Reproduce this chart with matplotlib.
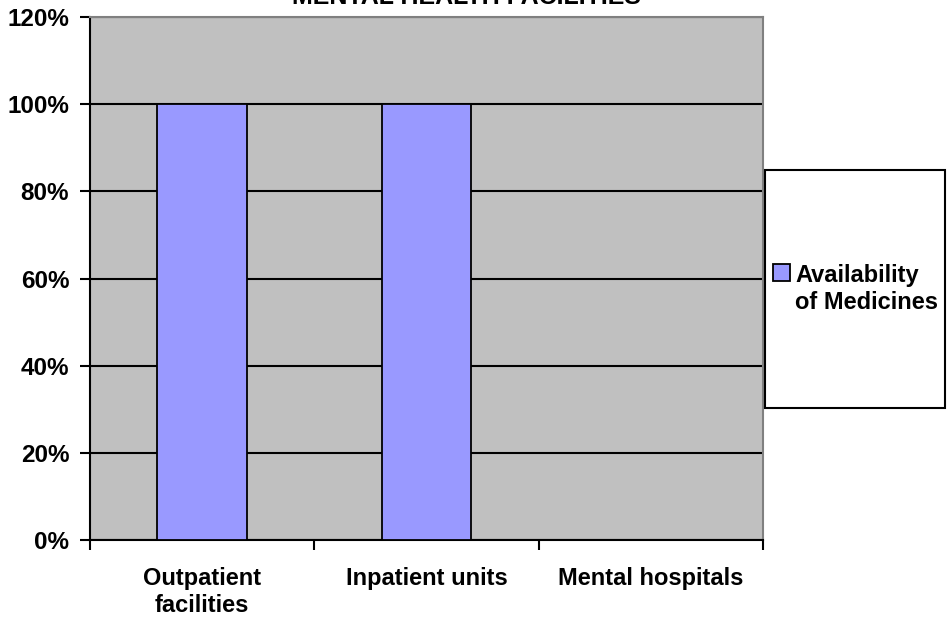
import numpy as np
import matplotlib.pyplot as plt
from matplotlib.patches import Rectangle
from matplotlib.ticker import FuncFormatter

plt.rcParams['font.family'] = ['Liberation Sans', 'DejaVu Sans']
plt.rcParams['font.weight'] = 'bold'

# data
categories = ["Outpatient\nfacilities", "Inpatient units", "Mental hospitals"]
availability = [1.0, 1.0, 0.0]
series_name = "Availability\nof Medicines"
title = "MENTAL HEALTH FACILITIES"

fig = plt.figure(figsize=(9.47, 6.2), dpi=100)
ax = fig.add_axes([90 / 947, 1 - 540 / 620, 673 / 947, 523 / 620])
ax.set_facecolor("#C0C0C0")

x = np.arange(len(categories))
bars = ax.bar(x, availability, width=0.4, color="#9999FF", edgecolor="black",
              linewidth=1.3, zorder=3, label=series_name)

ax.set_xlim(-0.5, len(categories) - 0.5)
ax.set_ylim(0, 1.2)
ax.set_yticks(np.arange(0, 1.21, 0.2))
ax.yaxis.set_major_formatter(FuncFormatter(lambda v, p: f"{v * 100:.0f}%"))
ax.yaxis.grid(True, color="black", linewidth=1.5, zorder=1)
ax.set_axisbelow(True)

ax.set_xticks(x)
ax.set_xticklabels(categories, fontsize=17, fontweight="bold", linespacing=1.2)
ax.set_xticks(np.arange(-0.5, len(categories)), minor=True)
ax.tick_params(axis="x", which="major", length=0, pad=19.5)
ax.tick_params(axis="x", which="minor", length=7, width=1.5, direction="out")
ax.tick_params(axis="y", length=7, width=1.5, direction="out", pad=8, labelsize=17.5)
for lab in ax.get_yticklabels():
    lab.set_fontweight("bold")

for side in ["left", "bottom"]:
    ax.spines[side].set_color("black")
    ax.spines[side].set_linewidth(1.5)
for side in ["top", "right"]:
    ax.spines[side].set_color("#808080")
    ax.spines[side].set_linewidth(1.5)

# title (partly cut off at the top, as in the source image)
fig.text(466 / 947, 1 - 4 / 620, title, ha="center", va="baseline",
         fontsize=18, fontweight="bold")

# legend box
fig.patches.append(Rectangle((765 / 947, 1 - 408 / 620), 180 / 947, 238 / 620,
                             transform=fig.transFigure, facecolor="white",
                             edgecolor="black", linewidth=1.5, zorder=0))
leg = fig.legend(handles=[bars], labels=[series_name], loc="center left",
                 bbox_to_anchor=(773 / 947, 1 - 289 / 620), frameon=False,
                 fontsize=17, handlelength=0.7, handleheight=0.7,
                 handletextpad=0.25, borderpad=0, borderaxespad=0)
for t in leg.get_texts():
    t.set_fontweight("bold")
    t.set_linespacing(1.2)
# put the marker next to the first line of the label
for col in leg._legend_handle_box.get_children():
    for item in col.get_children():
        item.align = "top"

fig.savefig("out.png", dpi=100)
